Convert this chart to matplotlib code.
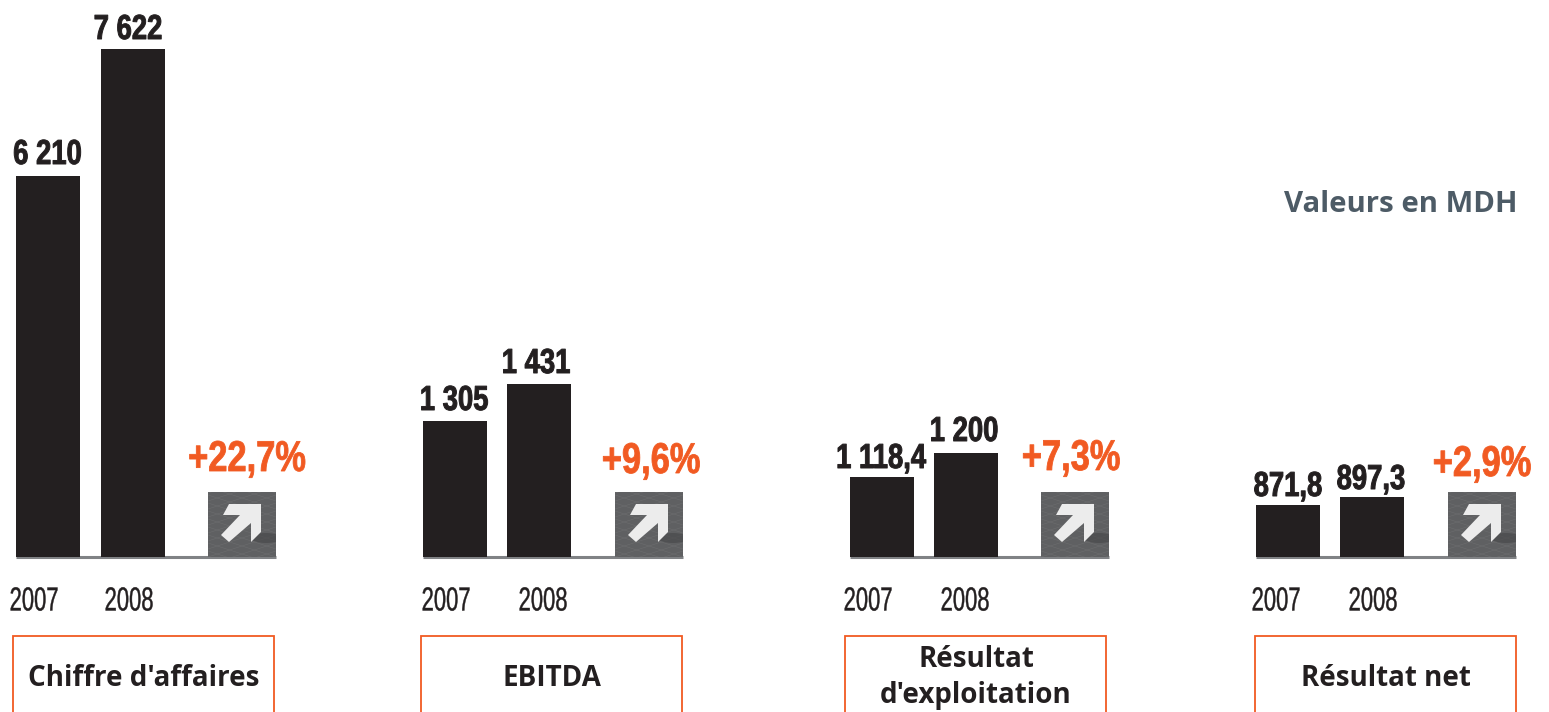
import matplotlib
matplotlib.use('Agg')
import matplotlib.pyplot as plt
from matplotlib.patches import Rectangle, Polygon, Ellipse
from matplotlib.patheffects import AbstractPathEffect
from matplotlib.transforms import Affine2D

# bars are not to scale in the original, heights are read off the picture
titres = ["Chiffre d'affaires", "EBITDA", "Résultat\nd'exploitation", "Résultat net"]
annees = ["2007", "2008"]
labels_2007 = ["6 210", "1 305", "1 118,4", "871,8"]
labels_2008 = ["7 622", "1 431", "1 200", "897,3"]
hauteurs_2007 = [381, 136, 80, 52]
hauteurs_2008 = [508, 173, 104, 60]
variations = ["+22,7%", "+9,6%", "+7,3%", "+2,9%"]

x_2007 = [16, 423, 850, 1256]
x_2008 = [101, 507, 934, 1340]
x_icone = [208, 615, 1041, 1448]
x_cadre = [13, 421, 845, 1255]
x_an07 = [34, 446, 868, 1276]
x_an08 = [129, 543, 965, 1373]
x_var = [247, 651, 1071, 1482]
y_var = [97, 95, 98, 92]
x_lab07 = [47.5, 454, 881, 1288]
x_lab08 = [128, 536, 964, 1371]
ecart_07 = [5, 4, 2, 2]
ecart_08 = [3, 4, 5, 1]

NOIR = '#231f20'
ORANGE = '#f15a22'
GRIS = '#808285'
ICONE = '#5f6062'


# pas de police condensée installée : on resserre le texte à l'affichage
class Etroit(AbstractPathEffect):
    def __init__(self, sx, lw, couleur):
        super().__init__()
        self.sx = sx
        self.lw = lw
        self.couleur = couleur

    def draw_path(self, renderer, gc, tpath, affine, rgbFace=None):
        ext = tpath.get_extents()
        dx = ext.x0 + ext.width * (1 - self.sx) / 2
        aff = Affine2D().translate(-ext.x0, 0).scale(self.sx, 1).translate(dx, 0) + affine
        gc0 = renderer.new_gc()
        gc0.copy_properties(gc)
        gc0.set_linewidth(self.lw)
        gc0.set_foreground(self.couleur)
        renderer.draw_path(gc0, tpath, aff, rgbFace)
        gc0.restore()


fig = plt.figure(figsize=(15.49, 7.12), dpi=100)
ax = fig.add_axes([0, 0, 1, 1])
ax.set_xlim(0, 1549)
ax.set_ylim(-155, 557)
ax.axis('off')

fleche = [(21, 12), (53, 12), (53, 40), (43, 50), (43, 31), (21, 50), (13, 43), (32, 23), (15, 23)]
etroit = ['Liberation Sans', 'DejaVu Sans']

for i in range(4):
    # ligne de base
    ax.plot([x_2007[i], x_icone[i] + 68], [0, 0], color=GRIS, lw=2.2, solid_capstyle='butt', zorder=1)
    ax.bar([x_2007[i], x_2008[i]], [hauteurs_2007[i], hauteurs_2008[i]], width=64, align='edge', color=NOIR, zorder=2)
    for x, h, e, lab in [(x_lab07[i], hauteurs_2007[i], ecart_07[i], labels_2007[i]),
                         (x_lab08[i], hauteurs_2008[i], ecart_08[i], labels_2008[i])]:
        ax.text(x, h + e, lab, ha='center', va='bottom', fontsize=25, fontweight='bold', color=NOIR,
                family=etroit, path_effects=[Etroit(0.79, 0.7, NOIR)])
    for x, an in [(x_an07[i], annees[0]), (x_an08[i], annees[1])]:
        ax.text(x, -45, an, ha='center', va='center', fontsize=24, color=NOIR, family=etroit,
                path_effects=[Etroit(0.66, 0.3, NOIR)])
    ax.text(x_var[i], y_var[i], variations[i], ha='center', va='center', fontsize=31, fontweight='bold',
            color=ORANGE, family=etroit, path_effects=[Etroit(0.8, 0.6, ORANGE)])

    # icone fleche
    x0 = x_icone[i]
    fond = Rectangle((x0, 0), 68, 65, facecolor=ICONE, edgecolor='none', zorder=3)
    ax.add_patch(fond)
    for k in range(-4, 12):
        l1, = ax.plot([x0, x0 + 68], [k * 8, k * 8 + 22], color='#8a8a8a', lw=0.4, alpha=0.3, zorder=3.1)
        l2, = ax.plot([x0, x0 + 68], [k * 8 + 22, k * 8], color='#8a8a8a', lw=0.4, alpha=0.3, zorder=3.1)
        l1.set_clip_path(fond)
        l2.set_clip_path(fond)
    ombre = Ellipse((x0 + 58, 19), 30, 10, facecolor='#434345', edgecolor='none', alpha=0.55, zorder=3.2)
    ax.add_patch(ombre)
    ombre.set_clip_path(fond)
    pts = [(x0 + px, 65 - py) for px, py in fleche]
    ax.add_patch(Polygon(pts, closed=True, facecolor='#ececec', edgecolor='none', zorder=4))

    # cadre orange, ouvert en bas
    ax.plot([x_cadre[i], x_cadre[i], x_cadre[i] + 261, x_cadre[i] + 261], [-155, -79, -79, -155],
            color=ORANGE, lw=1.3, solid_joinstyle='miter', zorder=2)
    ax.text(x_cadre[i] + 131, -121 if i != 2 else -120.5, titres[i], ha='center', va='center', fontsize=20,
            fontweight='bold', color=NOIR, family='Open Sans', linespacing=1.32)

ax.text(1518, 353, 'Valeurs en MDH', ha='right', va='center', fontsize=21.2, fontweight='bold',
        color='#4d5b66', family='Open Sans')

fig.savefig('out.png', dpi=100)
